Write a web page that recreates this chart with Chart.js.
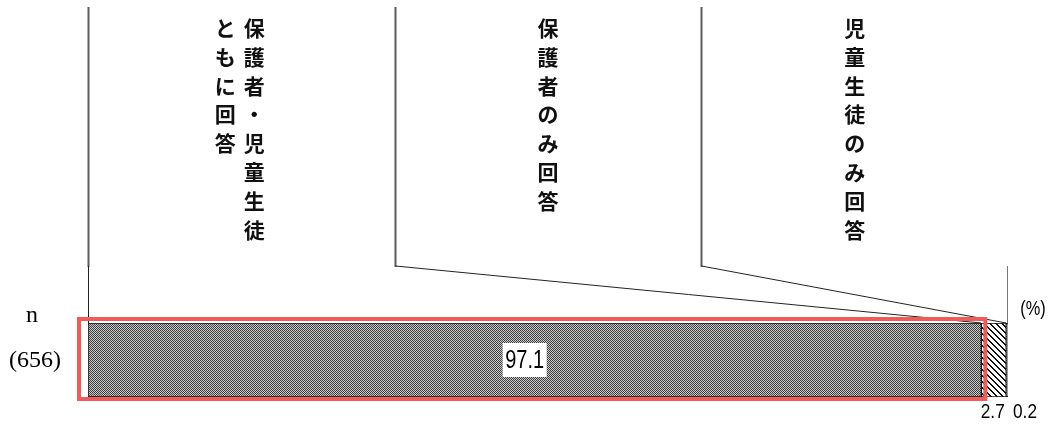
<!DOCTYPE html>
<html>
<head>
<meta charset="utf-8">
<script src="https://cdn.jsdelivr.net/npm/chart.js@4/dist/chart.umd.min.js"></script>
<style>
html,body{margin:0;padding:0;background:#fff;}
#wrap{width:1051px;height:425px;}
</style>
</head>
<body>
<div id="wrap"><canvas id="c" width="1051" height="425"></canvas></div>
<script>
// ---- data ----
const categories = ['(656)'];
const seriesNames = ['保護者・児童生徒ともに回答', '保護者のみ回答', '児童生徒のみ回答'];
const values = [97.1, 2.7, 0.2];
// header text split into vertical columns (right column first)
const headerColumns = [['保護者・児童生徒', 'ともに回答'], ['保護者のみ回答'], ['児童生徒のみ回答']];
const nLabel = 'n';
const unitLabel = '(%)';

// ---- patterns ----
function checker() {
  const c = document.createElement('canvas'); c.width = 2; c.height = 2;
  const g = c.getContext('2d');
  g.fillStyle = '#cccccc'; g.fillRect(0, 0, 2, 2);
  g.fillStyle = '#3c3c3c'; g.fillRect(0, 0, 1, 1); g.fillRect(1, 1, 1, 1);
  return g.createPattern(c, 'repeat');
}
function hatch() {
  const n = 6;
  const c = document.createElement('canvas'); c.width = n; c.height = n;
  const g = c.getContext('2d');
  g.fillStyle = '#fff'; g.fillRect(0, 0, n, n);
  g.fillStyle = '#111';
  for (let y = 0; y < n; y++) for (let x = 0; x < n; x++) {
    const d = ((x - y) % n + n) % n;
    if (d === 0 || d === 1) g.fillRect(x, y, 1, 1);
  }
  return g.createPattern(c, 'repeat');
}
function dots() {
  const c = document.createElement('canvas'); c.width = 2; c.height = 2;
  const g = c.getContext('2d');
  g.fillStyle = '#ddd'; g.fillRect(0, 0, 2, 2);
  g.fillStyle = '#333'; g.fillRect(0, 0, 1, 1);
  return g.createPattern(c, 'repeat');
}
const fills = [checker(), hatch(), dots()];

function narrowText(ctx, txt, x, y, sx) {
  ctx.save();
  ctx.translate(x, y);
  ctx.scale(sx, 1);
  ctx.fillText(txt, 0, 0);
  ctx.restore();
}

const decor = {
  id: 'decor',
  afterDraw(chart) {
    const ctx = chart.ctx;
    const a = chart.chartArea;
    const xs = chart.scales.x;
    const els = values.map((v, i) => chart.getDatasetMeta(i).data[0]);
    const barTop = els[0].y - els[0].height / 2;
    const barBot = els[0].y + els[0].height / 2;
    const bounds = [];
    let cum = 0;
    values.forEach(v => { cum += v; bounds.push(xs.getPixelForValue(cum)); });
    const start = xs.getPixelForValue(0);
    const colW = (a.right - a.left) / 3;
    const divX = [a.left, a.left + colW, a.left + 2 * colW, a.right];
    const topY = 7, bendY = 266;
    ctx.save();
    ctx.strokeStyle = '#5c5c5c';
    ctx.lineWidth = 2;
    for (let i = 0; i < 3; i++) {
      ctx.beginPath(); ctx.moveTo(Math.round(divX[i]) + 0.5, topY); ctx.lineTo(Math.round(divX[i]) + 0.5, bendY + 1); ctx.stroke();
    }
    ctx.strokeStyle = '#222';
    ctx.lineWidth = 1;
    ctx.beginPath(); ctx.moveTo(Math.round(start) + 0.5, bendY); ctx.lineTo(Math.round(start) + 0.5, barTop); ctx.stroke();
    for (let i = 1; i < 3; i++) {
      ctx.beginPath(); ctx.moveTo(Math.round(divX[i]) + 0.5, bendY); ctx.lineTo(bounds[i - 1], barTop); ctx.stroke();
    }
    ctx.strokeStyle = '#777';
    ctx.beginPath(); ctx.moveTo(Math.round(divX[3]) - 0.5, bendY); ctx.lineTo(Math.round(divX[3]) - 0.5, barTop); ctx.stroke();

    // vertical header text
    ctx.fillStyle = '#111';
    ctx.font = 'bold 21px "Noto Sans CJK JP"';
    ctx.textAlign = 'center';
    ctx.textBaseline = 'middle';
    const step = 28.8;
    headerColumns.forEach((cols, i) => {
      const cx = (divX[i] + divX[i + 1]) / 2;
      const n = cols.length;
      cols.forEach((str, j) => {
        const x = n === 1 ? cx : cx + 13 - j * 29;
        [...str].forEach((ch, k) => ctx.fillText(ch, x, 28 + k * step));
      });
    });

    // red highlight box around first segment
    ctx.strokeStyle = '#f25a5a';
    ctx.lineWidth = 4;
    ctx.strokeRect(start - 9, barTop - 4, bounds[0] - start + 13, barBot - barTop + 6);

    // value label 97.1 with white box
    const cx0 = (start + bounds[0]) / 2 - 10;
    ctx.fillStyle = '#fff';
    ctx.fillRect(cx0 - 22, els[0].y - 17, 44, 34);
    ctx.fillStyle = '#000';
    ctx.font = '25px "Liberation Sans", Arial';
    narrowText(ctx, values[0].toFixed(1), cx0, els[0].y + 1, 0.8);

    // small labels
    ctx.font = '21px "Liberation Sans", Arial';
    narrowText(ctx, values[1].toFixed(1), (bounds[0] + bounds[1]) / 2 - 1, 412, 0.82);
    narrowText(ctx, values[2].toFixed(1), bounds[2] + 17, 412, 0.82);
    ctx.font = '21px "Liberation Sans", Arial';
    narrowText(ctx, unitLabel, 1033, 309, 0.78);

    // left labels
    ctx.font = '24px "Liberation Serif", "DejaVu Serif", serif';
    ctx.fillText(nLabel, 32, 316);
    ctx.fillText(categories[0], 35, els[0].y + 1);
    ctx.restore();
  }
};

new Chart(document.getElementById('c'), {
  type: 'bar',
  data: {
    labels: categories,
    datasets: values.map((v, i) => ({
      label: seriesNames[i],
      data: [v],
      backgroundColor: fills[i],
      borderColor: '#111',
      borderWidth: 1,
      borderSkipped: false,
      barPercentage: 1,
      categoryPercentage: 1
    }))
  },
  options: {
    indexAxis: 'y',
    responsive: false,
    devicePixelRatio: 1,
    animation: false,
    layout: { padding: { left: 88, right: 43, top: 323, bottom: 28 } },
    scales: {
      x: { stacked: true, min: 0, max: 100, display: false },
      y: { stacked: true, display: false }
    },
    plugins: { legend: { display: false }, tooltip: { enabled: false } }
  },
  plugins: [decor]
});
</script>
</body>
</html>
